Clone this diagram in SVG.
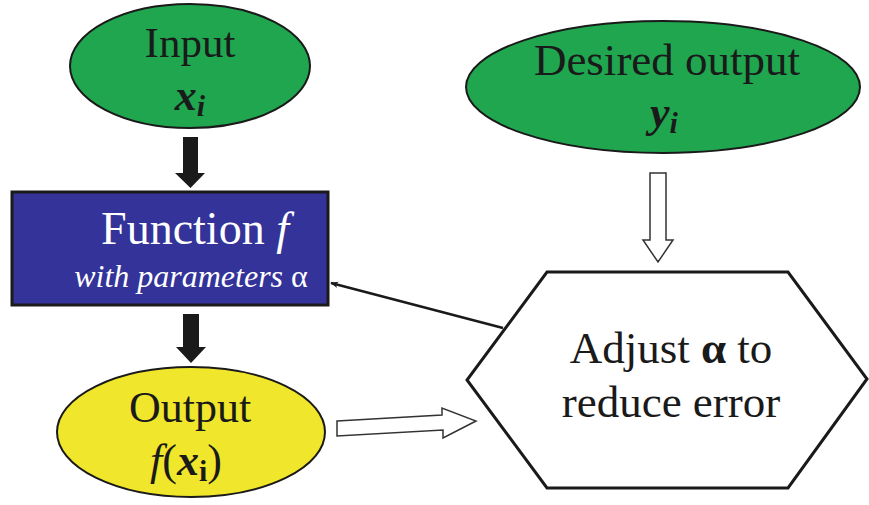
<svg xmlns="http://www.w3.org/2000/svg" width="869" height="505" viewBox="0 0 869 505">
<style>
text{font-family:'Liberation Serif','DejaVu Serif',serif;fill:#1a1a1a;text-anchor:middle}
.w{fill:#ffffff}
.node{stroke:#1a1a1a;stroke-width:2}
.bk{fill:#1a1a1a;stroke:none}
.wh{fill:#ffffff;stroke:#333;stroke-width:1.5}
</style>
<defs>
<marker id="ah" viewBox="0 0 10 10" refX="9" refY="5" markerWidth="8" markerHeight="8" orient="auto" markerUnits="userSpaceOnUse">
<path d="M0,1 L10,5 L0,9 L3,5 Z" fill="#1a1a1a"/>
</marker>
</defs>
<rect width="869" height="505" fill="#ffffff"/>
<g id="connectors">
<polygon class="bk" points="183,137 198,137 198,173 205,173 190.5,188 175,173 183,173"/>
<polygon class="bk" points="183,314 199,314 199,347 206,347 191,363 176,347 183,347"/>
<polygon class="wh" points="650,173 666,173 666,240 673,240 658,262 643,240 650,240"/>
<polygon class="wh" points="337,421 442,415 442,408 476,421 443,438 443,430 337,436"/>
<line x1="503" y1="328" x2="331" y2="283" stroke="#1a1a1a" stroke-width="2.5" marker-end="url(#ah)"/>
</g>
<g id="input">
<ellipse class="node" cx="190" cy="66" rx="120" ry="62" fill="#1fa64f"/>
<text x="190" y="57" font-size="43" font-family="Liberation Serif, serif">Input</text>
<text x="190" y="110" font-size="44" font-style="italic" font-weight="bold" font-family="Liberation Serif, serif">x<tspan font-size="30" dy="6">i</tspan></text>
</g>
<g id="desired">
<ellipse class="node" cx="663" cy="87" rx="197" ry="66" fill="#1fa64f"/>
<text x="667" y="75" font-size="45" font-family="Liberation Serif, serif">Desired output</text>
<text x="664" y="127" font-size="44" font-style="italic" font-weight="bold" font-family="Liberation Serif, serif">y<tspan font-size="30" dy="6">i</tspan></text>
</g>
<g id="function">
<rect x="12" y="192" width="316" height="113" fill="#333399" stroke="#1a1a1a" stroke-width="3"/>
<text class="w" x="195" y="244" font-size="46" font-family="Liberation Serif, serif">Function <tspan font-style="italic">f</tspan></text>
<text class="w" x="191" y="287" font-size="32" font-style="italic" font-family="Liberation Serif, serif">with parameters <tspan font-style="normal">α</tspan></text>
</g>
<g id="output">
<ellipse class="node" cx="191" cy="432" rx="134" ry="65" fill="#f0e62b"/>
<text x="190" y="422" font-size="44" font-family="Liberation Serif, serif">Output</text>
<text x="186" y="475" font-size="44" font-family="Liberation Serif, serif"><tspan font-style="italic">f</tspan>(<tspan font-style="italic" font-weight="bold">x</tspan><tspan font-weight="bold" font-size="30" dy="6">i</tspan><tspan dy="-6">)</tspan></text>
</g>
<g id="adjust">
<polygon points="547,272 788,272 867,379 788,488 547,488 467,380" fill="#ffffff" stroke="#1a1a1a" stroke-width="3"/>
<text x="671" y="363" font-size="45" font-family="Liberation Serif, serif">Adjust <tspan font-weight="bold">α</tspan> to</text>
<text x="671" y="417" font-size="45" font-family="Liberation Serif, serif">reduce error</text>
</g>
</svg>
